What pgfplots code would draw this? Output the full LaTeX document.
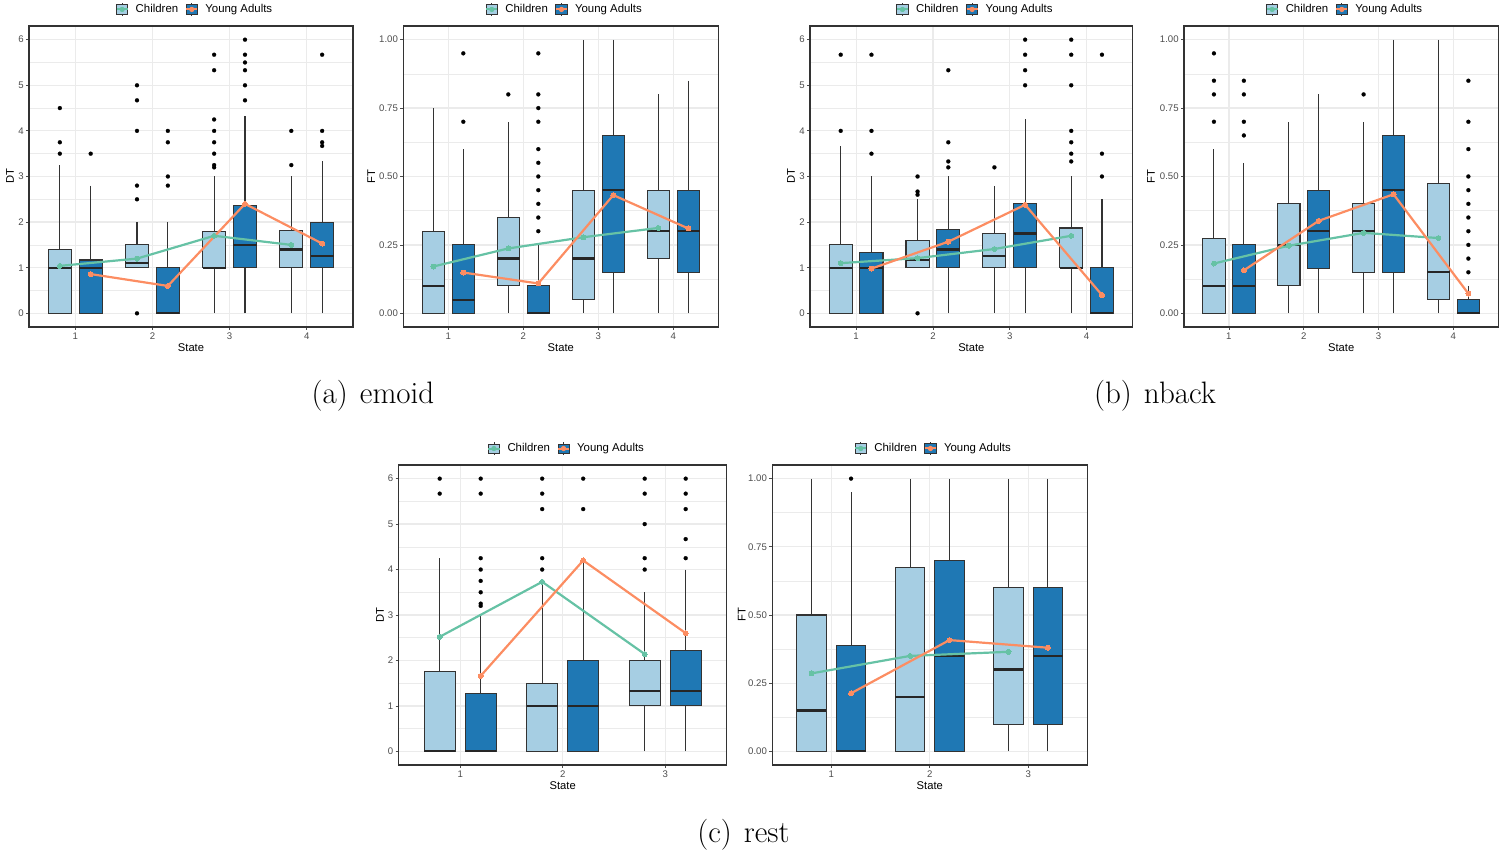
\documentclass[border=0pt]{standalone}
\usepackage{fontspec}
\usepackage{pgfplots}
\pgfplotsset{compat=1.18}
\usepgfplotslibrary{statistics}
\newfontfamily\hv{Liberation Sans}
\definecolor{lightbox}{HTML}{A6CEE3}
\definecolor{darkbox}{HTML}{1F78B4}
\definecolor{grn}{HTML}{66C2A5}
\definecolor{org}{HTML}{FC8D62}
\definecolor{edge}{HTML}{333333}
\definecolor{gridc}{HTML}{EBEBEB}
\pgfplotsset{
 gg/.style={
  scale only axis, height=150.5pt,
  axis line style={draw=edge, line width=0.6pt},
  tick pos=left,
  tick align=outside, major tick length=1.5pt, minor tick length=0pt,
  tick style={draw=black!70, line width=0.4pt},
  xmajorgrids, ymajorgrids, yminorgrids,
  major grid style={draw=gridc, line width=0.6pt},
  minor grid style={draw=gridc, line width=0.3pt},
  ticklabel style={font=\hv\fontsize{4.8}{5.5}\selectfont, text=black!70},
  yticklabel style={inner sep=1pt},
  xticklabel style={inner sep=1.2pt},
  /pgf/number format/assume math mode=true,
  xlabel={State},
  xlabel style={font=\hv\fontsize{5.6}{6}\selectfont, at={(axis description cs:0.5,-0.07)}, anchor=center},
  ylabel style={font=\hv\fontsize{5.6}{6}\selectfont, anchor=center},
  legend columns=2,
  legend style={draw=none, fill=none, at={(axis description cs:0.515,1.055)}, anchor=center,
    font=\hv\fontsize{5.7}{7}\selectfont, inner sep=0pt,
    /tikz/every odd column/.append style={column sep=1.5pt},
    /tikz/every even column/.append style={column sep=1.5pt}},
 },
 dt/.style={ymin=-0.3, ymax=6.3, ytick={0,1,...,6}, minor ytick={0.5,1.5,...,5.5}, ylabel={DT}},
 ft/.style={ymin=-0.05, ymax=1.05, ytick={0,0.25,0.5,0.75,1}, yticklabels={0.00,0.25,0.50,0.75,1.00},
   minor ytick={0.125,0.375,0.625,0.875}, ylabel={FT}},
 four/.style={xmin=0.4, xmax=4.6, xtick={1,2,3,4}},
 three/.style={xmin=0.4, xmax=3.6, xtick={1,2,3}},
 cb/.style={boxplot/draw direction=y, boxplot/box extend=0.3, boxplot/whisker extend=0,
   draw=edge, line width=0.55pt, fill=lightbox,
   boxplot/every median/.style={line width=1.1pt, draw=black!85}},
 yb/.style={cb, fill=darkbox},
 outl/.style={only marks, mark=*, mark size=1pt, mark options={fill=black, draw=black, line width=0.1pt}},
 gl/.style={draw=grn, line width=1.1pt, mark=*, mark size=1.25pt, mark options={fill=grn, draw=grn, line width=0pt}},
 ol/.style={draw=org, line width=1.1pt, mark=*, mark size=1.25pt, mark options={fill=org, draw=org, line width=0pt}},
}
\newcommand\bx[7]{\addplot[#1, boxplot prepared={draw position=#2, lower whisker=#3, lower quartile=#4, median=#5, upper quartile=#6, upper whisker=#7}] coordinates {};}
\newcommand\leg{%
\addlegendimage{legend image code/.code={
  \draw[edge, line width=0.4pt] (2.8pt,-3.3pt) -- (2.8pt,3.3pt);
  \draw[draw=edge, fill=lightbox, line width=0.4pt] (0pt,-2.3pt) rectangle (5.6pt,2.3pt);
  \draw[grn, line width=1pt] (0pt,0pt) -- (5.6pt,0pt);
  \fill[grn] (2.8pt,0pt) circle (1.1pt);}}
\addlegendentry{Children}
\addlegendimage{legend image code/.code={
  \draw[edge, line width=0.4pt] (2.8pt,-3.3pt) -- (2.8pt,3.3pt);
  \draw[draw=edge, fill=darkbox, line width=0.4pt] (0pt,-2.3pt) rectangle (5.6pt,2.3pt);
  \draw[org, line width=1pt] (0pt,0pt) -- (5.6pt,0pt);
  \fill[org] (2.8pt,0pt) circle (1.1pt);}}
\addlegendentry{Young Adults}}
\begin{document}
\begin{tikzpicture}
\useasboundingbox (0,0) rectangle (750pt,425.5pt);
% ---------- (a) emoid DT
\begin{axis}[gg, dt, four, at={(14.5pt,262pt)}, anchor=south west, width=162pt,
  ylabel style={at={(axis description cs:-0.0586,0.5)}}]
\leg
\bx{cb}{0.8}{0}{0}{1}{1.4}{3.25}
\bx{cb}{1.8}{1}{1}{1.11}{1.5}{2.0}
\bx{cb}{2.8}{0}{1}{1}{1.8}{3.0}
\bx{cb}{3.8}{0}{1}{1.4}{1.82}{3.0}
\bx{yb}{1.2}{0}{0}{1}{1.17}{2.8}
\bx{yb}{2.2}{0}{0}{0}{1.0}{2.0}
\bx{yb}{3.2}{0}{1}{1.5}{2.37}{4.33}
\bx{yb}{4.2}{0}{1}{1.25}{2.0}{3.33}
\addplot[outl] coordinates {(0.8,4.5)(0.8,3.75)(0.8,3.5)
 (1.8,5)(1.8,4.67)(1.8,4)(1.8,2.8)(1.8,2.5)(1.8,0)
 (2.8,5.67)(2.8,5.33)(2.8,4.25)(2.8,4)(2.8,3.75)(2.8,3.5)(2.8,3.25)(2.8,3.2)
 (3.8,4)(3.8,3.25)
 (1.2,3.5)
 (2.2,4)(2.2,3.75)(2.2,3)(2.2,2.8)
 (3.2,6)(3.2,5.67)(3.2,5.5)(3.2,5.33)(3.2,5)(3.2,4.67)
 (4.2,5.67)(4.2,4)(4.2,3.75)(4.2,3.67)};
\addplot[gl] coordinates {(0.8,1.04)(1.8,1.2)(2.8,1.7)(3.8,1.5)};
\addplot[ol] coordinates {(1.2,0.86)(2.2,0.6)(3.2,2.4)(4.2,1.53)};
\end{axis}
% ---------- (a) emoid FT
\begin{axis}[gg, ft, four, at={(201.65pt,262pt)}, anchor=south west, width=157.5pt,
  ylabel style={at={(axis description cs:-0.1016,0.5)}}]
\leg
\bx{cb}{0.8}{0}{0}{0.10}{0.30}{0.75}
\bx{cb}{1.8}{0}{0.10}{0.20}{0.35}{0.70}
\bx{cb}{2.8}{0}{0.05}{0.20}{0.45}{1.00}
\bx{cb}{3.8}{0}{0.20}{0.30}{0.45}{0.80}
\bx{yb}{1.2}{0}{0}{0.05}{0.25}{0.60}
\bx{yb}{2.2}{0}{0}{0}{0.10}{0.25}
\bx{yb}{3.2}{0}{0.15}{0.45}{0.65}{1.00}
\bx{yb}{4.2}{0}{0.15}{0.30}{0.45}{0.85}
\addplot[outl] coordinates {(1.8,0.80)(1.2,0.95)(1.2,0.70)
 (2.2,0.95)(2.2,0.80)(2.2,0.75)(2.2,0.70)(2.2,0.60)(2.2,0.55)(2.2,0.50)(2.2,0.45)(2.2,0.40)(2.2,0.35)(2.2,0.30)};
\addplot[gl] coordinates {(0.8,0.171)(1.8,0.237)(2.8,0.278)(3.8,0.312)};
\addplot[ol] coordinates {(1.2,0.149)(2.2,0.109)(3.2,0.432)(4.2,0.31)};
\end{axis}
% ---------- (b) nback DT
\begin{axis}[gg, dt, four, at={(405pt,262pt)}, anchor=south west, width=161.35pt,
  ylabel style={at={(axis description cs:-0.0589,0.5)}}]
\leg
\bx{cb}{0.8}{0}{0}{1}{1.5}{3.67}
\bx{cb}{1.8}{1}{1}{1.17}{1.6}{2.5}
\bx{cb}{2.8}{0}{1}{1.25}{1.75}{2.8}
\bx{cb}{3.8}{0}{1}{1}{1.87}{3}
\bx{yb}{1.2}{0}{0}{1}{1.33}{3}
\bx{yb}{2.2}{0}{1}{1.4}{1.83}{3}
\bx{yb}{3.2}{0}{1}{1.75}{2.4}{4.25}
\bx{yb}{4.2}{0}{0}{0}{1}{2.5}
\addplot[outl] coordinates {(0.8,5.67)(0.8,4)
 (1.8,3)(1.8,2.67)(1.8,2.6)(1.8,0)
 (2.8,3.2)
 (3.8,6)(3.8,5.67)(3.8,5)(3.8,4)(3.8,3.75)(3.8,3.5)(3.8,3.33)
 (1.2,5.67)(1.2,4)(1.2,3.5)
 (2.2,5.33)(2.2,3.75)(2.2,3.33)(2.2,3.2)
 (3.2,6)(3.2,5.67)(3.2,5.33)(3.2,5)
 (4.2,5.67)(4.2,3.5)(4.2,3)};
\addplot[gl] coordinates {(0.8,1.10)(1.8,1.21)(2.8,1.41)(3.8,1.70)};
\addplot[ol] coordinates {(1.2,0.98)(2.2,1.57)(3.2,2.38)(4.2,0.40)};
\end{axis}
% ---------- (b) nback FT
\begin{axis}[gg, ft, four, at={(592pt,262pt)}, anchor=south west, width=157.15pt,
  ylabel style={at={(axis description cs:-0.105,0.5)}}]
\leg
\bx{cb}{0.8}{0}{0}{0.10}{0.275}{0.60}
\bx{cb}{1.8}{0}{0.10}{0.25}{0.40}{0.70}
\bx{cb}{2.8}{0}{0.15}{0.30}{0.40}{0.70}
\bx{cb}{3.8}{0}{0.05}{0.15}{0.475}{1.00}
\bx{yb}{1.2}{0}{0}{0.10}{0.25}{0.55}
\bx{yb}{2.2}{0}{0.1625}{0.30}{0.45}{0.80}
\bx{yb}{3.2}{0}{0.15}{0.45}{0.65}{1.00}
\bx{yb}{4.2}{0}{0}{0}{0.05}{0.10}
\addplot[outl] coordinates {(0.8,0.95)(0.8,0.85)(0.8,0.80)(0.8,0.70)
 (2.8,0.80)
 (1.2,0.85)(1.2,0.80)(1.2,0.70)(1.2,0.65)
 (4.2,0.85)(4.2,0.70)(4.2,0.60)(4.2,0.50)(4.2,0.45)(4.2,0.40)(4.2,0.35)(4.2,0.30)(4.2,0.25)(4.2,0.20)(4.2,0.15)};
\addplot[gl] coordinates {(0.8,0.182)(1.8,0.247)(2.8,0.294)(3.8,0.275)};
\addplot[ol] coordinates {(1.2,0.157)(2.2,0.338)(3.2,0.435)(4.2,0.072)};
\end{axis}
% ---------- (c) rest DT
\begin{axis}[gg, dt, three, at={(199.35pt,43pt)}, anchor=south west, width=164pt, height=150pt,
  ylabel style={at={(axis description cs:-0.0567,0.5)}}]
\leg
\bx{cb}{0.8}{0}{0}{0}{1.75}{4.25}
\bx{cb}{1.8}{0}{0}{1}{1.5}{3.75}
\bx{cb}{2.8}{0}{1}{1.33}{2}{3.5}
\bx{yb}{1.2}{0}{0}{0}{1.27}{3.0}
\bx{yb}{2.2}{0}{0}{1}{2}{4.25}
\bx{yb}{3.2}{0}{1}{1.33}{2.22}{4}
\addplot[outl] coordinates {(0.8,6)(0.8,5.67)
 (1.8,6)(1.8,5.67)(1.8,5.33)(1.8,4.25)(1.8,4)
 (2.8,6)(2.8,5.67)(2.8,5)(2.8,4.25)(2.8,4)
 (1.2,6)(1.2,5.67)(1.2,4.25)(1.2,4)(1.2,3.75)(1.2,3.5)(1.2,3.25)(1.2,3.2)
 (2.2,6)(2.2,5.33)
 (3.2,6)(3.2,5.67)(3.2,5.33)(3.2,4.67)(3.2,4.25)};
\addplot[gl] coordinates {(0.8,2.52)(1.8,3.73)(2.8,2.14)};
\addplot[ol] coordinates {(1.2,1.66)(2.2,4.2)(3.2,2.6)};
\end{axis}
% ---------- (c) rest FT
\begin{axis}[gg, ft, three, at={(386.15pt,43pt)}, anchor=south west, width=157.5pt, height=150pt,
  ylabel style={at={(axis description cs:-0.097,0.5)}}]
\leg
\bx{cb}{0.8}{0}{0}{0.15}{0.50}{1.0}
\bx{cb}{1.8}{0}{0}{0.20}{0.675}{1.0}
\bx{cb}{2.8}{0}{0.10}{0.30}{0.60}{1.0}
\bx{yb}{1.2}{0}{0}{0}{0.3875}{0.95}
\bx{yb}{2.2}{0}{0}{0.35}{0.70}{1.0}
\bx{yb}{3.2}{0}{0.10}{0.35}{0.60}{1.0}
\addplot[outl] coordinates {(1.2,1.0)};
\addplot[gl] coordinates {(0.8,0.286)(1.8,0.35)(2.8,0.365)};
\addplot[ol] coordinates {(1.2,0.213)(2.2,0.408)(3.2,0.38)};
\end{axis}
% ---------- captions
\node[font=\fontsize{15.5}{18}\selectfont] at (186.5pt,227.5pt) {(a)\hskip 6pt emoid};
\node[font=\fontsize{15.5}{18}\selectfont] at (577.5pt,227.5pt) {(b)\hskip 6pt nback};
\node[font=\fontsize{15.5}{18}\selectfont] at (371.75pt,8pt) {(c)\hskip 6pt rest};
\end{tikzpicture}
\end{document}
